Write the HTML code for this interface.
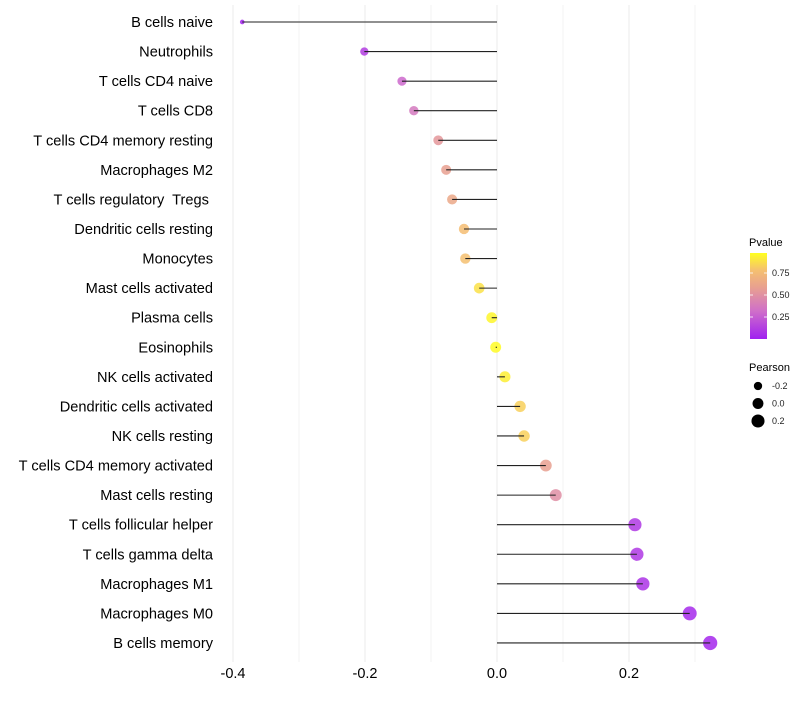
<!DOCTYPE html>
<html><head><meta charset="utf-8"><style>
body{margin:0;background:#fff;font-family:"Liberation Sans",sans-serif;}
svg text{font-family:"Liberation Sans",sans-serif;white-space:pre;}
</style></head><body>
<svg id="chart" width="800" height="700" xmlns="http://www.w3.org/2000/svg" xml:space="preserve">
<defs>
<linearGradient id="pgrad" x1="0" y1="1" x2="0" y2="0">
<stop offset="0" stop-color="#a020f0"/>
<stop offset="0.33" stop-color="#d070c8"/>
<stop offset="0.6" stop-color="#e8a090"/>
<stop offset="0.8" stop-color="#f5c070"/>
<stop offset="1" stop-color="#ffff20"/>
</linearGradient>
</defs>
<g id="grid"></g>
<g id="dots"></g>
<g id="marks"></g>
<g id="ylabels"></g>
<g id="xlabels"></g>
<g>
<text x="749" y="246" font-size="11" fill="#000">Pvalue</text>
<rect x="750" y="253" width="17" height="86" fill="url(#pgrad)"/>
<g id="cbticks"></g>
</g>
<g>
<text x="749" y="371" font-size="11" fill="#000">Pearson</text>
<g id="sizeleg"></g>
</g>
</svg>
<script>
const categories=["B cells naive","Neutrophils","T cells CD4 naive","T cells CD8","T cells CD4 memory resting","Macrophages M2","T cells regulatory  Tregs ","Dendritic cells resting","Monocytes","Mast cells activated","Plasma cells","Eosinophils","NK cells activated","Dendritic cells activated","NK cells resting","T cells CD4 memory activated","Mast cells resting","T cells follicular helper","T cells gamma delta","Macrophages M1","Macrophages M0","B cells memory"];
const pearson=[-0.386,-0.201,-0.144,-0.126,-0.089,-0.077,-0.068,-0.050,-0.048,-0.027,-0.008,-0.002,0.012,0.035,0.041,0.074,0.089,0.209,0.212,0.221,0.292,0.323];
const pvalues=[0.02,0.12,0.3,0.38,0.55,0.6,0.65,0.78,0.8,0.9,0.97,0.99,0.95,0.85,0.85,0.6,0.5,0.1,0.1,0.08,0.04,0.03];
const xTicks=[-0.4,-0.2,0.0,0.2];
const xTickLabels=["-0.4","-0.2","0.0","0.2"];
const cbTicks=[0.25,0.5,0.75];
const sizeLegendVals=[-0.2,0.0,0.2];

const NS="http://www.w3.org/2000/svg";
const X0=497,XS=660;
const xs=v=>X0+v*XS;
const ys=i=>22+i*29.57;
const rs=v=>Math.sqrt(Math.max(2,30+63.6*v));
const cbY=p=>339-p*88;
function mk(tag,attrs,parent){const e=document.createElementNS(NS,tag);for(const k in attrs)e.setAttribute(k,attrs[k]);parent.appendChild(e);return e;}
function lerp(a,b,t){return a+(b-a)*t;}
const stops=[[0,[160,32,240]],[0.33,[208,112,200]],[0.6,[232,160,144]],[0.8,[245,192,112]],[1,[255,255,32]]];
function col(p){for(let i=1;i<stops.length;i++){if(p<=stops[i][0]){const t=(p-stops[i-1][0])/(stops[i][0]-stops[i-1][0]);const a=stops[i-1][1],b=stops[i][1];return `rgb(${Math.round(lerp(a[0],b[0],t))},${Math.round(lerp(a[1],b[1],t))},${Math.round(lerp(a[2],b[2],t))})`;}}return "rgb(255,255,32)";}
const grid=document.getElementById('grid'),marks=document.getElementById('marks'),dots=document.getElementById('dots'),yl=document.getElementById('ylabels'),xl=document.getElementById('xlabels');
for(let v=-0.4;v<=0.31;v+=0.1){const g=mk('line',{x1:xs(v),x2:xs(v),y1:5,y2:662,stroke:'#ebebeb','stroke-width':Math.abs(Math.round(v*10))%2===0?1:0.6},grid);

}
xTicks.forEach((v,i)=>{const t=mk('text',{x:xs(v),y:678,'font-size':14.5,'text-anchor':'middle',fill:'#000'},xl);t.textContent=xTickLabels[i];

});
categories.forEach((c,i)=>{
const y=ys(i);
const t=mk('text',{x:213,y:y+5,'font-size':14.6,'text-anchor':'end',fill:'#000'},yl);t.textContent=c;


const d=mk('circle',{cx:xs(pearson[i]),cy:y,r:rs(pearson[i]),fill:col(pvalues[i]),'fill-opacity':0.85},dots);


const l=mk('line',{x1:xs(0),x2:xs(pearson[i]),y1:y,y2:y,stroke:'#222','stroke-width':1.1},marks);


});
const cbt=document.getElementById('cbticks');
cbTicks.forEach(p=>{const y=cbY(p);
mk('line',{x1:750,x2:753,y1:y,y2:y,stroke:'#fff','stroke-width':0.8},cbt);
mk('line',{x1:764,x2:767,y1:y,y2:y,stroke:'#fff','stroke-width':0.8},cbt);
const t=mk('text',{x:772,y:y+3,'font-size':9,fill:'#222'},cbt);t.textContent=p.toFixed(2);

});
const sl=document.getElementById('sizeleg');
sizeLegendVals.forEach((v,i)=>{const y=386+i*17.5;
const c=mk('circle',{cx:758,cy:y,r:rs(v),fill:'#000'},sl);


const t=mk('text',{x:772,y:y+3,'font-size':9,fill:'#222'},sl);t.textContent=v.toFixed(1);

});
</script>
</body></html>
